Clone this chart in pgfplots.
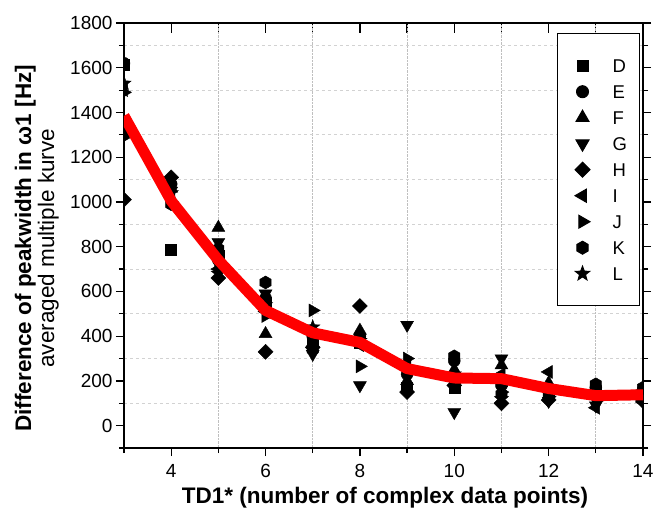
\documentclass[border=0pt]{standalone}
\usepackage{fontspec}
\setmainfont{Liberation Sans}
\usepackage{pgfplots}
\pgfplotsset{compat=1.18}

% filled hexagon, pointed at top and bottom
\pgfdeclareplotmark{hexagon*}{%
  \pgfpathmoveto{\pgfpointpolar{90}{\pgfplotmarksize}}%
  \pgfpathlineto{\pgfpointpolar{150}{\pgfplotmarksize}}%
  \pgfpathlineto{\pgfpointpolar{210}{\pgfplotmarksize}}%
  \pgfpathlineto{\pgfpointpolar{270}{\pgfplotmarksize}}%
  \pgfpathlineto{\pgfpointpolar{330}{\pgfplotmarksize}}%
  \pgfpathlineto{\pgfpointpolar{30}{\pgfplotmarksize}}%
  \pgfpathclose\pgfusepathqfillstroke}
% filled five-pointed star
\pgfdeclareplotmark{fstar}{%
  \pgfpathmoveto{\pgfpointpolar{90}{\pgfplotmarksize}}%
  \pgfpathlineto{\pgfpointpolar{126}{0.42\pgfplotmarksize}}%
  \pgfpathlineto{\pgfpointpolar{162}{\pgfplotmarksize}}%
  \pgfpathlineto{\pgfpointpolar{198}{0.42\pgfplotmarksize}}%
  \pgfpathlineto{\pgfpointpolar{234}{\pgfplotmarksize}}%
  \pgfpathlineto{\pgfpointpolar{270}{0.42\pgfplotmarksize}}%
  \pgfpathlineto{\pgfpointpolar{306}{\pgfplotmarksize}}%
  \pgfpathlineto{\pgfpointpolar{342}{0.42\pgfplotmarksize}}%
  \pgfpathlineto{\pgfpointpolar{18}{\pgfplotmarksize}}%
  \pgfpathlineto{\pgfpointpolar{54}{0.42\pgfplotmarksize}}%
  \pgfpathclose\pgfusepathqfillstroke}
% filled square diamond
\pgfdeclareplotmark{rdiamond}{%
  \pgfpathmoveto{\pgfqpoint{0pt}{\pgfplotmarksize}}%
  \pgfpathlineto{\pgfqpoint{\pgfplotmarksize}{0pt}}%
  \pgfpathlineto{\pgfqpoint{0pt}{-\pgfplotmarksize}}%
  \pgfpathlineto{\pgfqpoint{-\pgfplotmarksize}{0pt}}%
  \pgfpathclose\pgfusepathqfillstroke}

\begin{document}
\begin{tikzpicture}[font=\fontsize{19}{23}\selectfont]
\path[use as bounding box] (-124pt,-67pt) rectangle (535pt,448pt);

% inward ticks along the top edge
\begin{axis}[
  at={(0,0)}, anchor=south west,
  scale only axis, width=519pt, height=425pt,
  xmin=3, xmax=14, ymin=-100, ymax=1800,
  axis line style={draw=none},
  ytick=\empty,
  xtick={4,5,...,13}, xticklabels={},
  xtick pos=right, tick align=inside,
  major tick length=10pt,
  every tick/.style={black, line width=1.3pt},
]
\end{axis}

\begin{axis}[
  at={(0,0)}, anchor=south west,
  scale only axis, width=519pt, height=425pt,
  xmin=3, xmax=14, ymin=-100, ymax=1800,
  xtick={4,6,...,14}, minor xtick={3,5,...,13},
  ytick={0,200,...,1800}, minor ytick={-100,100,...,1700},
  xtick pos=left, ytick pos=both, yticklabel pos=left,
  tick align=outside,
  major tick length=8pt, minor tick length=5pt,
  every tick/.style={black, line width=1.3pt},
  every minor tick/.style={black, line width=1.2pt},
  xminorgrids, yminorgrids,
  minor x grid style={densely dotted, gray!50, line width=0.7pt},
  minor y grid style={dashed, gray!35, line width=0.8pt},
  axis line style={line width=1.5pt},
  clip marker paths=true,
  /pgf/number format/assume math mode=true,
  /pgf/number format/1000 sep={},
  xticklabel style={yshift=-5pt},
  xlabel={\fontsize{22.5}{26}\selectfont\bfseries TD1* (number of complex data points)},
  xlabel style={at={(axis description cs:0.503,0)}, yshift=-50pt, anchor=center},
  ylabel={\fontsize{22.5}{25}\selectfont\bfseries Difference of peakwidth in ω1 [Hz]\\
          \fontsize{22.5}{25}\selectfont averaged multiple kurve},
  ylabel style={align=center, at={(axis description cs:-0.168,0.47)}, anchor=center},
  legend cell align=left,
  legend image code/.code={%
    \path[draw=none,fill=none] (0pt,-6pt) rectangle (42pt,6pt);
    \draw[#1] plot coordinates {(12pt,0pt)};},
  legend style={
    at={(axis description cs:0.995,0.976)}, anchor=north east,
    draw=black, line width=1pt,
    inner xsep=13pt, inner ysep=19pt,
    row sep=0pt,
    font=\fontsize{18.5}{22}\selectfont,
    nodes={text height=13pt, text depth=0pt, inner ysep=6.5pt, inner xsep=0pt},
  },
]
% D
\addplot[only marks, mark=square*, mark size=5.5pt, black] coordinates {
 (3,1615) (4,785) (5,760) (6,550) (7,380) (8,370) (9,170) (10,170) (11,200) (12,150) (13,150) (14,140)};
% E
\addplot[only marks, mark=*, mark size=6pt, black] coordinates {
 (3,1620) (4,1080) (5,740) (6,570) (7,400) (8,400) (9,230) (10,290) (11,180) (12,160) (13,170) (14,160)};
% F
\addplot[only marks, mark=triangle*, mark size=7.5pt, black] coordinates {
 (3,1310) (4,1060) (5,885) (6,410) (7,370) (8,425) (9,200) (10,250) (11,270) (12,190) (13,140) (14,130)};
% G
\addplot[only marks, mark=triangle*, mark size=7.5pt, mark options={rotate=180}, black] coordinates {
 (3,1320) (4,1050) (5,820) (6,590) (7,320) (8,180) (9,450) (10,60) (11,300) (12,110) (13,90) (14,120)};
% H
\addplot[only marks, mark=rdiamond, mark size=7.5pt, black] coordinates {
 (3,1010) (4,1110) (5,660) (6,330) (7,350) (8,535) (9,150) (10,180) (11,100) (12,115) (13,130) (14,110)};
% I
\addplot[only marks, mark=triangle*, mark size=7.5pt, mark options={rotate=90}, black] coordinates {
 (3,1500) (4,1030) (5,700) (6,510) (7,420) (8,360) (9,280) (10,210) (11,230) (12,240) (13,80) (14,105)};
% J
\addplot[only marks, mark=triangle*, mark size=7.5pt, mark options={rotate=-90}, black] coordinates {
 (3,1490) (4,1000) (5,720) (6,490) (7,515) (8,265) (9,300) (10,200) (11,150) (12,130) (13,110) (14,125)};
% K
\addplot[only marks, mark=hexagon*, mark size=6.5pt, black] coordinates {
 (3,1300) (4,990) (5,790) (6,640) (7,340) (8,390) (9,160) (10,310) (11,140) (12,140) (13,185) (14,170)};
% L
\addplot[only marks, mark=fstar, mark size=7.5pt, black] coordinates {
 (3,1530) (4,1040) (5,680) (6,540) (7,440) (8,380) (9,260) (10,230) (11,120) (12,170) (13,120) (14,150)};
\legend{D,E,F,G,H,I,J,K,L}

% averaged curve
\addplot[red, line width=11pt, line join=round, forget plot] coordinates {
 (3,1385) (4,1005) (5,740) (6,515) (7,415) (8,372) (9,255) (10,213) (11,210) (12,166) (13,134) (14,138)};
\end{axis}
\end{tikzpicture}
\end{document}
